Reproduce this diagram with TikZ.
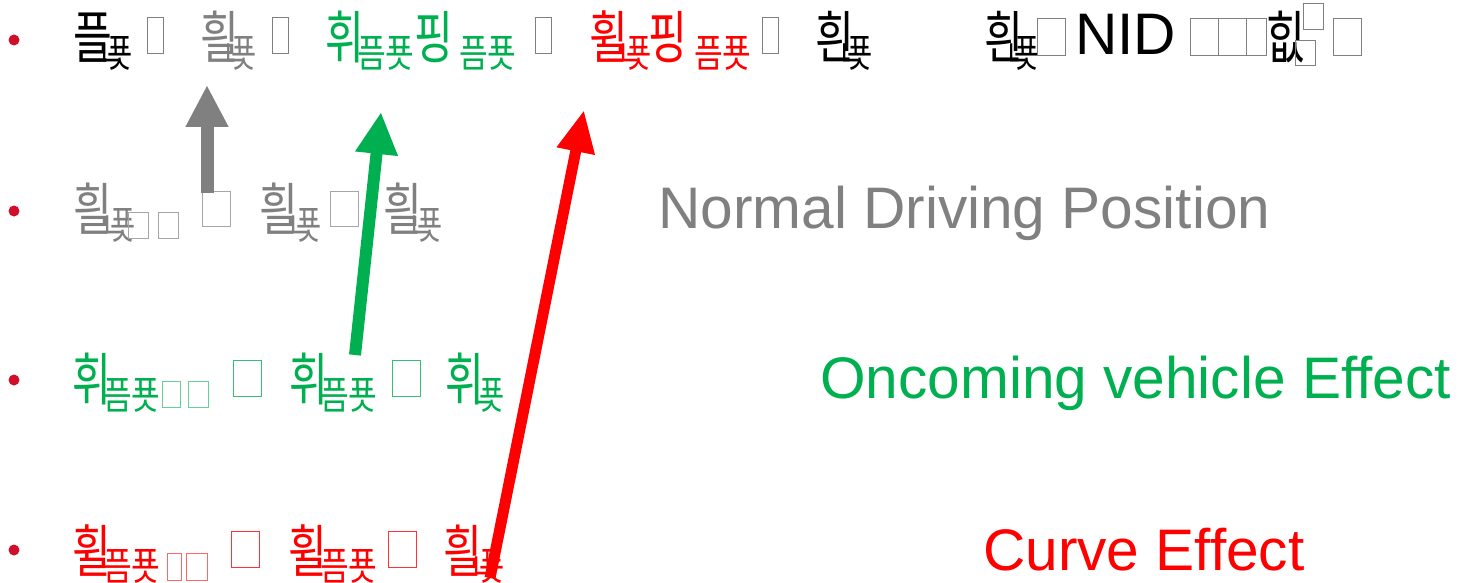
\documentclass[tikz,border=0pt]{standalone}
\usepackage{fontspec}
\setmainfont{Liberation Sans}
\newfontfamily\kr{Noto Sans CJK KR}
\usetikzlibrary{arrows.meta}
\definecolor{dgray}{RGB}{128,128,128}
\definecolor{dgreen}{RGB}{0,176,80}
\definecolor{dred}{RGB}{255,0,0}
\definecolor{bullet}{RGB}{208,16,42}
\newcommand\mk[1]{\scalebox{0.74}[1]{#1}}
\newcommand\sk[1]{\scalebox{0.7}[1]{#1}}
\newcommand\wk[1]{\scalebox{0.8}[1]{#1}}
\tikzset{
  mainK/.style={inner sep=0, anchor=base west, font=\kr\fontsize{57}{57}\selectfont},
  subK/.style={inner sep=0, anchor=base west, font=\kr\fontsize{39}{39}\selectfont},
  tofu/.style={draw, line width=0.8pt, inner sep=0, anchor=north west},
  eng/.style={inner sep=0, anchor=base west, font=\fontsize{58.6}{58.6}\selectfont},
  dot/.style={circle, fill=bullet, inner sep=0, minimum size=11pt},
  fatarrow/.style={-{Triangle[length=42pt,width=40pt]}}
}
\begin{document}
\begin{tikzpicture}[x=1pt,y=-1pt]
\useasboundingbox (0,0) rectangle (1472,583);
% bullets
\node[dot] (b1) at (14,40) {};
\node[dot] (b2) at (14,211) {};
\node[dot] (b3) at (14,380) {};
\node[dot] (b4) at (14,550) {};
% row 1
\node[mainK] (a1) at (73,59) {\mk{플}};
\node[subK] (a1s) at (98,68) {\sk{ㄴ\hspace{-22pt}푯}};
\node[tofu, dgray, minimum width=16pt, minimum height=36pt] (t1) at (147,17) {};
\node[mainK, dgray] (a2) at (200,59) {\mk{흴}};
\node[subK, dgray] (a2s) at (222,68) {\sk{ㄴ\hspace{-22pt}푯}};
\node[tofu, dgray, minimum width=16pt, minimum height=36pt] (t2) at (272,17) {};
\node[mainK, dgreen] (a3) at (325,59) {\mk{휘}};
\node[subK, dgreen] (a3s) at (357,68) {\wk{픔푯}};
\node[mainK, dgreen] (a4) at (414,59) {\mk{핑}};
\node[subK, dgreen] (a4s) at (459,68) {\wk{픔푯}};
\node[tofu, dgray, minimum width=16pt, minimum height=36pt] (t3) at (535,17) {};
\node[mainK, dred] (a5) at (589,59) {\mk{휠}};
\node[subK, dred] (a5s) at (617,68) {\sk{ㄴ\hspace{-22pt}푯}};
\node[mainK, dred] (a6) at (648,59) {\mk{핑}};
\node[subK, dred] (a6s) at (694,68) {\wk{픔푯}};
\node[tofu, dgray, minimum width=16pt, minimum height=36pt] (t4) at (762,17) {};
\node[mainK] (a7) at (815,59) {\mk{흰}};
\node[subK] (a7s) at (838,68) {\sk{ㄴ\hspace{-22pt}푯}};
\node[mainK] (a8) at (984,59) {\mk{흰}};
\node[subK] (a8s) at (1005,68) {\sk{ㄴ\hspace{-22pt}푯}};
\node[tofu, dgray, minimum width=28pt, minimum height=37pt] (t5) at (1037,18) {};
\node[eng] (nid) at (1075,55) {NID};
\node[tofu, dgray, minimum width=28pt, minimum height=37pt] (t6) at (1190,18) {};
\node[tofu, dgray, minimum width=28pt, minimum height=37pt] (t7) at (1218,18) {};
\node[tofu, dgray, minimum width=20pt, minimum height=37pt] (t8) at (1246,18) {};
\node[mainK] (a9) at (1266,59) {\mk{힚}};
\node[tofu, dgray, minimum width=20pt, minimum height=26pt] (t9) at (1303,3) {};
\node[tofu, dgray, minimum width=20pt, minimum height=25pt] (t10) at (1295,40) {};
\node[tofu, dgray, minimum width=28pt, minimum height=37pt] (t11) at (1333,18) {};
% row 2
\node[mainK, dgray] (c1) at (73,230) {\mk{흴}};
\node[subK, dgray] (c1s) at (101,239) {\sk{ㄴ\hspace{-22pt}푯}};
\node[tofu, dgray!70, minimum width=20pt, minimum height=26pt] (u1) at (128,212) {};
\node[tofu, dgray!70, minimum width=20pt, minimum height=26pt] (u2) at (158,212) {};
\node[tofu, dgray!70, minimum width=28pt, minimum height=35pt] (u3) at (202,191) {};
\node[mainK, dgray] (c2) at (259,230) {\mk{흴}};
\node[subK, dgray] (c2s) at (287,239) {\sk{ㄴ\hspace{-22pt}푯}};
\node[tofu, dgray!70, minimum width=28pt, minimum height=35pt] (u4) at (330,191) {};
\node[mainK, dgray] (c3) at (383,230) {\mk{흴}};
\node[subK, dgray] (c3s) at (408,239) {\sk{ㄴ\hspace{-22pt}푯}};
\node[eng, dgray] (ndp) at (658,228) {Normal Driving Position};
% row 3
\node[mainK, dgreen] (d1) at (72,400) {\mk{휘}};
\node[subK, dgreen] (d1s) at (103,409) {\wk{픔푯}};
\node[tofu, dgreen!60, minimum width=18pt, minimum height=26pt] (v1) at (162,381) {};
\node[tofu, dgreen!60, minimum width=20pt, minimum height=26pt] (v2) at (188,381) {};
\node[tofu, dgreen!80, minimum width=28pt, minimum height=36pt] (v3) at (233,360) {};
\node[mainK, dgreen] (d2) at (289,400) {\mk{휘}};
\node[subK, dgreen] (d2s) at (320,409) {\wk{픔푯}};
\node[tofu, dgreen!80, minimum width=28pt, minimum height=36pt] (v4) at (392,360) {};
\node[mainK, dgreen] (d3) at (445,400) {\mk{휘}};
\node[subK, dgreen] (d3s) at (470,409) {\sk{ㄴ\hspace{-22pt}푯}};
\node[eng, dgreen] (ove) at (820,398) {Oncoming vehicle Effect};
% row 4
\node[mainK, dred] (e1) at (72,572) {\mk{휠}};
\node[subK, dred] (e1s) at (103,580) {\wk{픔푯}};
\node[tofu, dred!60, minimum width=14pt, minimum height=27pt] (w1) at (167,553) {};
\node[tofu, dred!60, minimum width=21pt, minimum height=27pt] (w2) at (186,553) {};
\node[tofu, dred!80, minimum width=28pt, minimum height=36pt] (w3) at (231,531) {};
\node[mainK, dred] (e2) at (288,572) {\mk{휠}};
\node[subK, dred] (e2s) at (320,580) {\wk{픔푯}};
\node[tofu, dred!80, minimum width=28pt, minimum height=36pt] (w4) at (388,531) {};
\node[mainK, dred] (e3) at (443,572) {\mk{흴}};
\node[subK, dred] (e3s) at (470,580) {\sk{ㄴ\hspace{-22pt}푯}};
\node[eng, dred] (ce) at (983,570) {Curve Effect};
% arrows
\coordinate (gs) at (207,193);
\coordinate (ge) at (207,85);
\coordinate (ns) at (355,355);
\coordinate (ne) at (381,112);
\coordinate (rs) at (490,578);
\coordinate (re) at (584,110);
\draw[dgray, line width=13pt, fatarrow] (gs) -- (ge);
\draw[dgreen, line width=12pt, fatarrow] (ns) -- (ne);
\draw[dred, line width=11pt, -{Triangle[length=42pt,width=36pt]}] (rs) -- (re);
\end{tikzpicture}
\end{document}
